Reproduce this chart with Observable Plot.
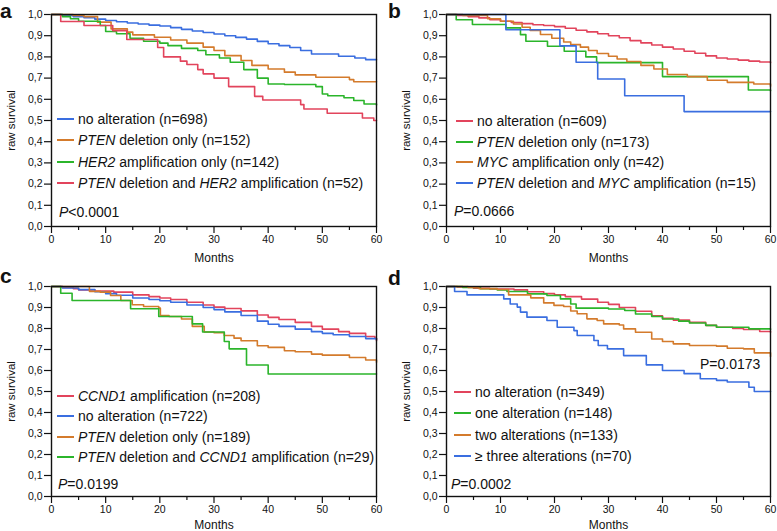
<!DOCTYPE html>
<html><head><meta charset="utf-8">
<script src="https://cdn.jsdelivr.net/npm/d3@7"></script>
<script src="https://cdn.jsdelivr.net/npm/@observablehq/plot@0.6"></script>
<style>
body{margin:0;background:#fff;font-family:"Liberation Sans",Arial,Helvetica,sans-serif;color:#111;}
#root{position:relative;width:777px;height:531px;overflow:hidden;}
.panel{position:absolute;}
.plab{position:absolute;font-weight:bold;font-size:21px;line-height:20px;}
.leg{position:absolute;font-size:14px;white-space:nowrap;display:flex;align-items:center;height:20px;line-height:20px;}
.sw{display:inline-block;width:17px;height:2px;margin-right:4px;}
.pv{position:absolute;font-size:14px;white-space:nowrap;line-height:20px;height:20px;}
</style></head><body><div id="root"></div>
<script>
// ---------- data (months, raw survival) ----------
const xTicks = [0, 10, 20, 30, 40, 50, 60];
const xMinorTicks = [5, 15, 25, 35, 45, 55];
const yTicks = [0, 0.1, 0.2, 0.3, 0.4, 0.5, 0.6, 0.7, 0.8, 0.9, 1.0];

// panel a
const aLabels = ["no alteration (n=698)", "*PTEN* deletion only (n=152)", "*HER2* amplification only (n=142)", "*PTEN* deletion and *HER2* amplification (n=52)"];
const aColors = ["#3a6ee0", "#d47b2c", "#2bb52b", "#e2445c"];
const aNoAlt = [[0,1],[2,.995],[4,.99],[6,.985],[8,.978],[10,.972],[12,.966],[14,.96],[16,.955],[18,.95],[20,.946],[22,.938],[24,.93],[26,.922],[28,.915],[30,.908],[32,.9],[34,.892],[36,.884],[38,.873],[40,.862],[42,.853],[44,.844],[46,.83],[48,.814],[53,.803],[56,.795],[58,.787],[60,.786]];
const aPten = [[0,1],[4,.995],[6,.99],[8.5,.964],[11,.932],[14,.917],[15,.904],[19,.893],[22,.88],[25,.865],[28,.846],[30,.83],[32,.806],[35,.783],[37,.76],[40,.743],[43,.728],[45,.715],[48.8,.704],[55,.693],[55.8,.683],[60,.683]];
const aHer2 = [[0,1],[2,.99],[3.5,.98],[5,.968],[9,.948],[10,.92],[12,.909],[14.5,.888],[17,.874],[20,.865],[21.5,.853],[24,.84],[27,.83],[28.5,.81],[31,.795],[33,.775],[35.5,.74],[38,.7],[40,.672],[43,.67],[48.8,.66],[50,.625],[51,.617],[54,.607],[55.8,.594],[57.7,.578],[60,.573]];
const aBoth = [[0,1],[1.7,.967],[6,.948],[11.3,.924],[13.9,.882],[19.6,.844],[20.7,.80],[23.8,.78],[25,.764],[27,.74],[28,.72],[30,.70],[32.7,.66],[37.5,.614],[39,.597],[46,.575],[46.6,.554],[50.9,.534],[57.4,.512],[59.5,.50],[60,.50]];
const aP = "*P*<0.0001";

// panel b
const bLabels = ["no alteration (n=609)", "*PTEN* deletion only (n=173)", "*MYC* amplification only (n=42)", "*PTEN* deletion and *MYC* amplification (n=15)"];
const bColors = ["#e2445c", "#2bb52b", "#d47b2c", "#3a6ee0"];
const bNoAlt = [[0,1],[2,.995],[4,.99],[6,.984],[8,.976],[10,.968],[12,.962],[14,.957],[16,.952],[18,.948],[20,.943],[22,.935],[24,.926],[26,.918],[28,.909],[30,.9],[32,.89],[34,.877],[36,.866],[38,.856],[40,.846],[42,.837],[44,.827],[46,.817],[48,.805],[50,.795],[52,.79],[54,.785],[56,.78],[58,.776],[60,.772]];
const bPten = [[0,1],[1.8,.975],[4.8,.953],[11,.937],[13.7,.905],[14.7,.874],[18.7,.85],[21.8,.827],[25.8,.80],[27.8,.773],[40,.707],[55.9,.644],[60,.64]];
const bMyc = [[0,1],[3,.995],[7.6,.98],[10,.968],[12.4,.955],[14,.94],[15.5,.925],[17.4,.906],[19.5,.888],[21.7,.87],[23,.858],[24.8,.846],[26.3,.83],[27.9,.816],[30,.803],[31.6,.79],[33.4,.778],[36,.76],[38.4,.743],[40.9,.717],[44.6,.707],[48.3,.69],[52,.68],[56.9,.672],[60,.662]];
const bBoth = [[0,1],[11,.928],[21,.852],[24,.775],[28,.696],[33,.617],[44,.542],[60,.542]];
const bP = "*P*=0.0666";

// panel c
const cLabels = ["*CCND1* amplification (n=208)", "no alteration (n=722)", "*PTEN* deletion only (n=189)", "*PTEN* deletion and *CCND1* amplification (n=29)"];
const cColors = ["#e2445c", "#3a6ee0", "#d47b2c", "#2bb52b"];
const cCcnd1 = [[0,1],[2,.995],[4,.99],[5,.984],[8,.978],[11.5,.973],[15,.96],[18,.952],[20,.945],[22,.938],[25,.925],[28,.912],[30,.902],[32,.895],[35,.884],[38,.864],[40,.853],[42,.843],[45,.829],[48,.81],[50,.797],[53,.785],[55,.777],[58,.762],[59.7,.753],[60,.742]];
const cNoAlt = [[0,1],[2,.993],[5,.985],[8,.975],[10,.966],[12,.958],[15,.945],[18,.938],[20,.932],[22,.925],[25,.912],[28,.9],[30,.89],[32,.879],[35,.862],[38,.835],[40,.82],[42,.81],[45,.797],[48,.785],[50,.777],[52,.77],[55,.762],[58,.752],[60,.746]];
const cPten = [[0,1],[7,.977],[9,.973],[10.9,.957],[12.8,.933],[14.9,.913],[17,.905],[19.8,.897],[20.1,.862],[21.7,.857],[24,.845],[26,.81],[28.2,.783],[30,.78],[31.9,.767],[33.7,.754],[35,.742],[38,.718],[40,.71],[43,.694],[45,.689],[48,.678],[50,.673],[55,.662],[58,.65],[60,.639]];
const cBoth = [[0,1],[1.7,.968],[3.8,.933],[14.6,.894],[19.8,.857],[26,.822],[27.9,.783],[31.9,.738],[32.8,.703],[36,.626],[40,.583],[60,.583]];
const cP = "*P*=0.0199";

// panel d
const dLabels = ["no alteration (n=349)", "one alteration (n=148)", "two alterations (n=133)", "≥ three alterations (n=70)"];
const dColors = ["#e2445c", "#2bb52b", "#d47b2c", "#3a6ee0"];
const dNone = [[0,1],[2,.998],[5,.992],[8,.988],[12.5,.984],[15,.975],[18,.966],[20,.96],[22,.952],[25,.94],[28,.925],[30,.915],[32,.9],[35,.882],[38,.86],[40,.848],[42,.84],[45,.829],[48,.815],[50,.806],[53,.8],[55,.795],[58,.786],[60,.782]];
const dOne = [[0,1],[3,.995],[6.3,.989],[9.4,.983],[11.2,.976],[15,.965],[18.6,.957],[21.1,.941],[23,.917],[24,.897],[30,.893],[33,.886],[35,.869],[38,.857],[40,.845],[43,.835],[45,.826],[48,.815],[50,.806],[55,.806],[56,.798],[60,.795]];
const dTwo = [[0,1],[4,.995],[6,.99],[9.4,.986],[11.5,.96],[15.6,.946],[18,.922],[19.9,.91],[21.7,.905],[23,.883],[24.2,.87],[26,.846],[27.9,.838],[29.1,.822],[32,.817],[32.8,.798],[35,.782],[38,.75],[40,.738],[42,.727],[45,.719],[50,.716],[52,.706],[55,.703],[57,.684],[60,.667]];
const dThree = [[0,1],[1.5,.976],[3.8,.96],[10.6,.941],[11.8,.917],[13.1,.902],[13.7,.878],[14.9,.854],[18.6,.838],[20.5,.806],[23.6,.79],[24.2,.767],[27.3,.743],[28.1,.719],[29.8,.703],[32.8,.671],[37,.627],[40,.60],[44,.585],[47,.561],[50,.553],[52,.545],[56,.52],[57,.50],[60,.50]];
const dP = "*P*=0.0002";
const dP2 = "P=0.0173";

// ---------- layout ----------
const FONT = '"Liberation Sans", Arial, Helvetica, sans-serif';
const panels = [
  {letter: "a", labels: aLabels, colors: aColors, curves: [aNoAlt, aPten, aHer2, aBoth], p: aP,
   left: 0, top: 0, w: 388, h: 265, mr: 12, mb: 39, lo: 35, lx: 57, ly: 119, ldy: 21.4, px: 59, py: 212, letterX: 0, letterY: 1},
  {letter: "b", labels: bLabels, colors: bColors, curves: [bNoAlt, bPten, bMyc, bBoth], p: bP,
   left: 395, top: 0, w: 382, h: 265, mr: 7, mb: 39, lo: 35, lx: 456, ly: 121, ldy: 20.7, px: 454, py: 211, letterX: 388, letterY: 1},
  {letter: "c", labels: cLabels, colors: cColors, curves: [cCcnd1, cNoAlt, cPten, cBoth], p: cP,
   left: 0, top: 272, w: 388, h: 259, mr: 12, mb: 35, lo: 32, lx: 57, ly: 396, ldy: 20.3, px: 58, py: 484, letterX: 0, letterY: 266},
  {letter: "d", labels: dLabels, colors: dColors, curves: [dNone, dOne, dTwo, dThree], p: dP, p2: dP2, p2x: 700, p2y: 364,
   left: 395, top: 272, w: 382, h: 259, mr: 7, mb: 35, lo: 32, lx: 454, ly: 392, ldy: 21.3, px: 451, py: 484, letterX: 388, letterY: 268}
];

const root = document.getElementById("root");
const rich = s => s.replace(/\*([^*]+)\*/g, "<i>$1</i>");

for (const p of panels) {
  const data = p.curves.flatMap((c, i) => c.map(([m, v]) => ({series: p.labels[i], m, v})));
  const chart = Plot.plot({
    width: p.w, height: p.h,
    marginLeft: 51, marginRight: p.mr, marginTop: 14, marginBottom: p.mb,
    style: {fontFamily: FONT, fontSize: "10.5px", color: "#111", background: "transparent", overflow: "visible"},
    x: {domain: [0, 60]},
    y: {domain: [0, 1]},
    color: {domain: p.labels, range: p.colors},
    marks: [
      Plot.axisX({ticks: xMinorTicks, tickSize: 4, text: null, label: null, strokeWidth: 1.2}),
      Plot.axisX({ticks: xTicks, tickSize: 7, tickPadding: 2, label: null, strokeWidth: 1.2}),
      Plot.axisX({ticks: [], label: "Months", labelAnchor: "center", labelOffset: p.lo, labelArrow: "none", fontSize: 12}),
      Plot.axisY({ticks: yTicks, tickSize: 7, tickPadding: 2, strokeWidth: 1.2,
        tickFormat: d => d.toFixed(1).replace(".", ","), label: null}),
      Plot.axisY({ticks: [], label: "raw survival", labelAnchor: "center", labelOffset: 45, labelArrow: "none", fontSize: 11.5}),
      Plot.line(data, {x: "m", y: "v", z: "series", stroke: "series", curve: "step-after", strokeWidth: 1.6}),
      Plot.frame({stroke: "#111", strokeWidth: 1.4})
    ]
  });
  const holder = document.createElement("div");
  holder.className = "panel";
  holder.style.left = p.left + "px";
  holder.style.top = p.top + "px";
  holder.appendChild(chart);
  root.appendChild(holder);

  const lab = document.createElement("div");
  lab.className = "plab";
  lab.style.left = p.letterX + "px";
  lab.style.top = p.letterY + "px";
  lab.textContent = p.letter;
  root.appendChild(lab);

  p.labels.forEach((t, i) => {
    const row = document.createElement("div");
    row.className = "leg";
    row.style.left = p.lx + "px";
    row.style.top = (p.ly + i * p.ldy - 10) + "px";
    row.innerHTML = `<span class="sw" style="background:${p.colors[i]}"></span><span>${rich(t)}</span>`;
    root.appendChild(row);
  });

  const pv = document.createElement("div");
  pv.className = "pv";
  pv.style.left = p.px + "px";
  pv.style.top = (p.py - 10) + "px";
  pv.innerHTML = rich(p.p);
  root.appendChild(pv);

  if (p.p2) {
    const pv2 = document.createElement("div");
    pv2.className = "pv";
    pv2.style.left = p.p2x + "px";
    pv2.style.top = (p.p2y - 10) + "px";
    pv2.innerHTML = rich(p.p2);
    root.appendChild(pv2);
  }
}
</script>
</body></html>
